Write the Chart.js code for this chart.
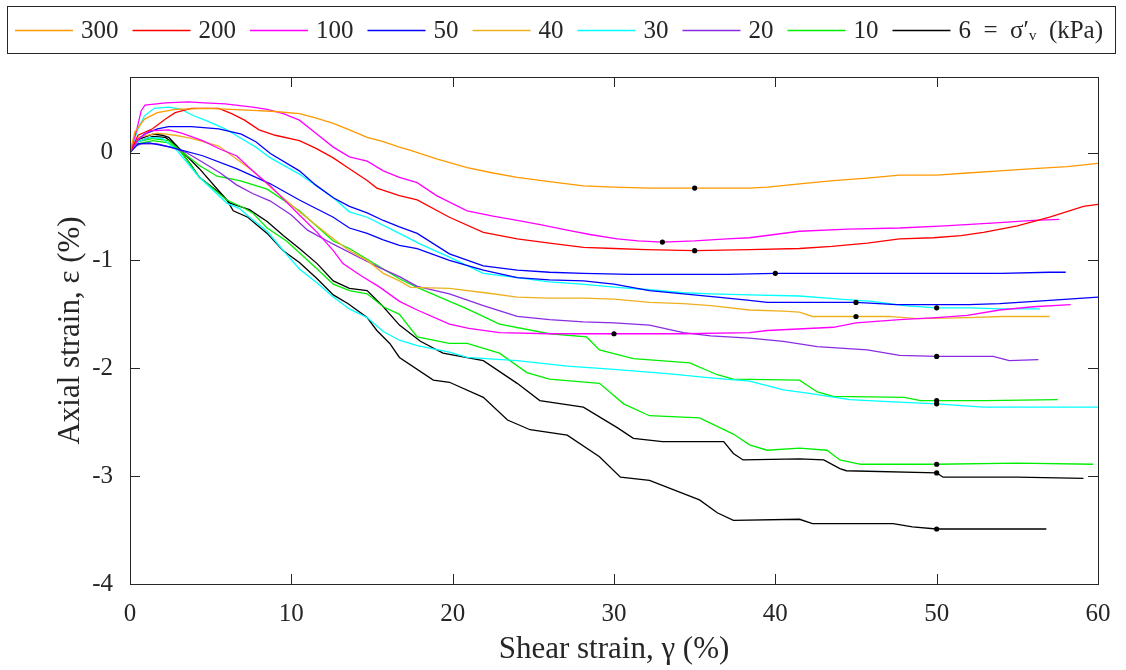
<!DOCTYPE html>
<html>
<head>
<meta charset="utf-8">
<script src="https://cdn.jsdelivr.net/npm/chart.js@4.4.1/dist/chart.umd.min.js"></script>
<style>
  body { margin: 0; background: #fff; }
  #wrap { width: 1126px; height: 670px; }
</style>
</head>
<body>
<div id="wrap"><canvas id="c" width="1126" height="670"></canvas></div>
<script>
// shear strain (x, %) vs axial strain (y, %)
var x300 = [0, 0.3, 0.9, 1.7, 2.8, 4.8, 7.6, 9, 10.5, 11.5, 12.6, 13.6, 14.7, 15.7, 16.7, 17.4, 19, 20.9, 22.5, 24, 26, 28.1, 30, 32.2, 35, 37, 38.4, 39.5, 41.5, 43.6, 45.5, 47.7, 50, 51.9, 53.9, 56, 58.1, 60];
var y300 = [0, 0.19, 0.31, 0.37, 0.40, 0.41, 0.39, 0.38, 0.36, 0.32, 0.27, 0.21, 0.14, 0.10, 0.05, 0.02, -0.06, -0.14, -0.19, -0.23, -0.27, -0.31, -0.32, -0.33, -0.33, -0.33, -0.33, -0.32, -0.29, -0.26, -0.24, -0.21, -0.21, -0.19, -0.17, -0.15, -0.13, -0.10];

var x200 = [0, 0.5, 1.4, 2.2, 2.8, 3.8, 5.5, 6.3, 7.1, 8, 9, 10.5, 11.5, 12.6, 13.6, 14.7, 15.3, 16.7, 17.8, 19.8, 21.9, 24, 26, 28.1, 30, 32, 35, 38.4, 41.5, 43.5, 45.7, 47.7, 49.8, 51.5, 52.9, 55, 57, 59.1, 60];
var y200 = [0, 0.16, 0.22, 0.31, 0.37, 0.41, 0.41, 0.36, 0.30, 0.21, 0.16, 0.11, 0.04, -0.05, -0.15, -0.26, -0.33, -0.40, -0.44, -0.60, -0.74, -0.80, -0.84, -0.88, -0.89, -0.90, -0.91, -0.90, -0.89, -0.87, -0.84, -0.80, -0.79, -0.77, -0.74, -0.68, -0.60, -0.50, -0.48];

var x100a = [0, 0.4, 0.7, 0.93, 2.2, 3.6, 4.6, 5.9, 7.6, 8.5, 9.5, 10.5, 11.5, 12.6, 13.6, 14.7, 15.7, 16.7, 17.8, 19, 20.9, 22.5, 24, 25.5, 27.1, 28.5, 30.2, 31.5, 33, 35, 37, 38.4, 41.5, 44.5, 47.7, 50.5, 53.9, 56, 57.6];
var y100a = [0, 0.2, 0.39, 0.44, 0.46, 0.47, 0.46, 0.45, 0.42, 0.40, 0.36, 0.30, 0.18, 0.05, -0.04, -0.08, -0.17, -0.23, -0.28, -0.40, -0.54, -0.59, -0.63, -0.67, -0.72, -0.76, -0.80, -0.82, -0.83, -0.82, -0.80, -0.79, -0.73, -0.71, -0.70, -0.68, -0.65, -0.63, -0.62];
var x100b = [0, 0.5, 1.2, 2.4, 3.2, 4.5, 5.6, 6.6, 7.6, 8.7, 9.5, 10.5, 11.6, 12.6, 13.2, 14.3, 15.5, 16.7, 17.8, 19.8, 21, 22.9, 26, 30, 34.3, 38.4, 39.5, 43.6, 45, 47.7, 50, 51.9, 53.9, 56, 58.3];
var y100b = [0, 0.12, 0.2, 0.21, 0.18, 0.11, 0.03, -0.03, -0.17, -0.31, -0.43, -0.58, -0.74, -0.91, -1.03, -1.14, -1.25, -1.38, -1.46, -1.59, -1.63, -1.67, -1.68, -1.68, -1.68, -1.67, -1.65, -1.62, -1.58, -1.55, -1.53, -1.51, -1.46, -1.43, -1.41];

var x50a = [0, 0.5, 0.9, 1.7, 2.4, 3.8, 5.5, 6.9, 7.8, 8.7, 10.5, 11.5, 12.6, 13.6, 14.7, 15.7, 16.7, 17.8, 19.8, 21.9, 24, 26, 28.1, 31, 34.3, 37, 40, 43, 46, 50, 54, 57, 58];
var y50a = [0, 0.12, 0.17, 0.22, 0.24, 0.24, 0.22, 0.17, 0.10, -0.01, -0.17, -0.30, -0.42, -0.50, -0.56, -0.63, -0.69, -0.75, -0.94, -1.05, -1.09, -1.11, -1.12, -1.13, -1.13, -1.13, -1.12, -1.12, -1.12, -1.12, -1.12, -1.11, -1.11];
var x50b = [0, 0.5, 1.2, 2.5, 4.5, 6.6, 8.7, 10.5, 12.6, 13.6, 14.7, 15.7, 16.7, 17.8, 19.8, 21.9, 24, 26, 28.1, 30, 32.2, 34.3, 36.4, 38.4, 39.5, 42, 45, 47.5, 49.8, 52, 53.9, 57, 60];
var y50b = [0, 0.08, 0.09, 0.05, -0.03, -0.15, -0.29, -0.44, -0.60, -0.70, -0.75, -0.81, -0.86, -0.89, -1.0, -1.09, -1.16, -1.18, -1.19, -1.22, -1.28, -1.31, -1.34, -1.37, -1.39, -1.39, -1.39, -1.41, -1.41, -1.41, -1.40, -1.37, -1.34];

var x40 = [0, 0.5, 1.7, 2.8, 3.8, 5.5, 6.6, 7.6, 8.7, 10.5, 12.6, 13.6, 14.7, 15.7, 16.7, 17.4, 19.8, 22, 24, 26, 28.1, 30, 32.2, 34.3, 36, 38.4, 40.5, 41.5, 42.3, 45, 47, 48.8, 52, 54, 57];
var y40 = [0, 0.14, 0.18, 0.16, 0.13, 0.06, -0.06, -0.17, -0.32, -0.55, -0.80, -0.91, -1.0, -1.12, -1.19, -1.25, -1.26, -1.30, -1.34, -1.35, -1.35, -1.36, -1.39, -1.40, -1.42, -1.46, -1.47, -1.48, -1.52, -1.52, -1.52, -1.54, -1.53, -1.52, -1.52];

var x30a = [0, 0.5, 0.9, 1.5, 2.4, 3.2, 3.8, 4.8, 5.9, 6.9, 7.8, 8.7, 10.5, 12.6, 13.6, 14.7, 16.7, 18, 19.8, 21.9, 24, 26, 28, 30.2, 32, 34.3, 36, 38.4, 41.5, 44, 46, 48, 50, 52, 54, 56.4];
var y30a = [0, 0.22, 0.34, 0.41, 0.42, 0.40, 0.35, 0.29, 0.22, 0.13, 0.05, -0.05, -0.20, -0.42, -0.55, -0.60, -0.75, -0.85, -0.97, -1.12, -1.16, -1.20, -1.22, -1.25, -1.27, -1.30, -1.31, -1.32, -1.33, -1.36, -1.38, -1.42, -1.44, -1.44, -1.45, -1.45];
var x30b = [0, 0.5, 1.2, 2, 2.9, 4.3, 6, 6.8, 7.4, 8.5, 9.5, 10.5, 11.6, 12.6, 13.6, 14.7, 15.7, 16.7, 17.8, 19.8, 20.9, 24, 27.1, 30, 33.3, 36, 38.4, 39.5, 40.5, 42, 44.6, 47, 50, 52.9, 56, 60];
var y30b = [0, 0.1, 0.14, 0.13, 0.02, -0.23, -0.47, -0.52, -0.60, -0.73, -0.91, -1.08, -1.21, -1.34, -1.45, -1.53, -1.66, -1.74, -1.79, -1.85, -1.90, -1.93, -1.98, -2.01, -2.05, -2.09, -2.12, -2.16, -2.20, -2.23, -2.29, -2.31, -2.33, -2.36, -2.36, -2.36];

var x20 = [0, 0.3, 0.7, 1.7, 2.5, 3.5, 4.5, 5.6, 6.6, 7.6, 8.7, 10, 11, 12.6, 14.3, 15.5, 16.7, 17.8, 19.8, 21.9, 24, 26, 28.1, 30, 32.2, 34.3, 36, 38.4, 40.5, 42.6, 45.7, 47.7, 50, 53.5, 54.5, 56.3];
var y20 = [0, 0.06, 0.08, 0.08, 0.05, 0.0, -0.09, -0.19, -0.30, -0.38, -0.45, -0.58, -0.72, -0.85, -0.98, -1.07, -1.15, -1.24, -1.31, -1.42, -1.52, -1.55, -1.57, -1.58, -1.60, -1.67, -1.70, -1.72, -1.75, -1.80, -1.83, -1.88, -1.89, -1.89, -1.93, -1.92];

var x10a = [0, 0.5, 1.4, 2.4, 3.1, 4.3, 5.4, 6.8, 8.5, 10.5, 12.6, 13.6, 14.7, 16.7, 17.8, 19.2, 20.9, 22.9, 26, 28.3, 29.1, 31.2, 34.7, 36.4, 37.4, 41.5, 42.6, 43.6, 48, 49, 50, 53, 57.5];
var y10a = [0, 0.1, 0.13, 0.11, 0.02, -0.12, -0.22, -0.26, -0.34, -0.54, -0.82, -0.89, -0.99, -1.17, -1.25, -1.34, -1.45, -1.59, -1.68, -1.71, -1.83, -1.91, -1.95, -2.06, -2.10, -2.11, -2.22, -2.26, -2.27, -2.30, -2.30, -2.30, -2.29];
var x10b = [0, 0.5, 1.4, 2.4, 3.2, 4.3, 6, 7, 7.6, 8.5, 9.7, 10.5, 11.6, 12.6, 13.6, 14.7, 15.7, 16.7, 17.8, 19.8, 20.9, 22.9, 24.6, 26, 29.1, 30.6, 32.2, 35.3, 37.4, 38.4, 39.5, 41.5, 43.2, 44, 45.3, 50, 55, 59.7];
var y10b = [0, 0.08, 0.11, 0.09, 0.0, -0.23, -0.44, -0.51, -0.56, -0.70, -0.82, -0.93, -1.08, -1.22, -1.28, -1.31, -1.43, -1.50, -1.71, -1.77, -1.77, -1.86, -2.04, -2.10, -2.14, -2.33, -2.44, -2.46, -2.61, -2.71, -2.76, -2.74, -2.76, -2.85, -2.89, -2.89, -2.88, -2.89];

var x6a = [0, 0.5, 1.4, 2, 2.4, 2.9, 3.2, 3.8, 4.3, 5.6, 6.2, 6.8, 7.4, 8.5, 9.5, 10.5, 11.6, 12.6, 13.6, 14.7, 15.7, 16.7, 18, 19.4, 21.9, 24, 25.4, 28.1, 30.2, 31.2, 33, 36.8, 37.4, 38, 41.5, 43, 44, 44.4, 50, 50.4, 55, 59.1];
var y6a = [0, 0.12, 0.17, 0.16, 0.14, 0.06, 0.0, -0.12, -0.23, -0.38, -0.47, -0.50, -0.53, -0.64, -0.77, -0.89, -1.03, -1.19, -1.26, -1.28, -1.43, -1.60, -1.75, -1.86, -1.93, -2.14, -2.30, -2.36, -2.55, -2.65, -2.68, -2.68, -2.79, -2.85, -2.84, -2.85, -2.93, -2.95, -2.97, -3.01, -3.01, -3.02];
var x6b = [0, 0.5, 1.4, 2.2, 2.9, 3.5, 4.3, 6, 6.4, 7.3, 8.5, 9.5, 10.5, 11.6, 12.6, 13.5, 14.7, 15.3, 16.1, 16.7, 18.8, 19.8, 21.9, 23.4, 24.8, 27.1, 29.1, 30.4, 32.2, 35.3, 36.4, 37.4, 41.5, 42.3, 47.3, 48.5, 50, 56.8];
var y6b = [0, 0.1, 0.15, 0.14, 0.06, -0.03, -0.15, -0.44, -0.54, -0.60, -0.75, -0.91, -1.02, -1.17, -1.32, -1.40, -1.53, -1.65, -1.77, -1.90, -2.11, -2.13, -2.27, -2.48, -2.57, -2.62, -2.82, -3.01, -3.04, -3.22, -3.34, -3.41, -3.40, -3.44, -3.44, -3.47, -3.49, -3.49];

// marked points
var dotX = [35, 33, 35, 40, 45, 45, 30, 50, 50, 50, 50, 50, 50, 50];
var dotY = [-0.33, -0.83, -0.91, -1.12, -1.39, -1.52, -1.68, -1.44, -1.89, -2.30, -2.33, -2.89, -2.97, -3.49];

var legendLabels = ['300', '200', '100', '50', '40', '30', '20', '10', '6\u2002=\u2002\u03c3\u2032\u1d65\u2002(kPa)'];
var legendColors = ['#FF9900', '#FF0000', '#FF00FF', '#0000FF', '#EDB120', '#00FFFF', '#8A2BE2', '#00EE00', '#000000'];
var yTicks = [-4, -3, -2, -1, 0];

var FONT = '"Liberation Serif", "DejaVu Serif", serif';
var AXC = '#262626';

function pts(xs, ys) {
    return xs.map(function (v, i) { return {x: v, y: ys[i]}; });
}

function line(xs, ys, colorIdx) {
    return {
        data: pts(xs, ys),
        borderColor: legendColors[colorIdx],
        borderWidth: 1.3,
        pointRadius: 0,
        tension: 0,
        fill: false,
        showLine: true,
        order: 2
    };
}

var datasets = [
    line(x300, y300, 0),
    line(x200, y200, 1),
    line(x100a, y100a, 2),
    line(x100b, y100b, 2),
    line(x50a, y50a, 3),
    line(x50b, y50b, 3),
    line(x40, y40, 4),
    line(x30a, y30a, 5),
    line(x30b, y30b, 5),
    line(x20, y20, 6),
    line(x10a, y10a, 7),
    line(x10b, y10b, 7),
    line(x6a, y6a, 8),
    line(x6b, y6b, 8),
    {
        data: pts(dotX, dotY),
        showLine: false,
        pointRadius: 2.6,
        pointBackgroundColor: '#000',
        pointBorderWidth: 0,
        order: 0
    }
];

// box around the axes with inward ticks, MATLAB style
var framePlugin = {
    id: 'frame',
    afterDatasetsDraw: function (chart) {
        var ctx = chart.ctx, a = chart.chartArea;
        var sx = chart.scales.x, sy = chart.scales.y;
        ctx.save();
        ctx.strokeStyle = AXC;
        ctx.lineWidth = 1;
        ctx.beginPath();
        sx.ticks.forEach(function (t) {
            var p = Math.round(sx.getPixelForValue(t.value)) + 0.5;
            ctx.moveTo(p, a.bottom); ctx.lineTo(p, a.bottom - 10);
            ctx.moveTo(p, a.top); ctx.lineTo(p, a.top + 10);
        });
        sy.ticks.forEach(function (t) {
            var p = Math.round(sy.getPixelForValue(t.value)) + 0.5;
            ctx.moveTo(a.left, p); ctx.lineTo(a.left + 10, p);
            ctx.moveTo(a.right, p); ctx.lineTo(a.right - 10, p);
        });
        ctx.stroke();
        ctx.strokeRect(Math.round(a.left) + 0.5, Math.round(a.top) + 0.5,
            Math.round(a.right - a.left), Math.round(a.bottom - a.top));
        ctx.restore();
    }
};

// boxed legend in one row above the plot
var legendPlugin = {
    id: 'boxLegend',
    afterDraw: function (chart) {
        var ctx = chart.ctx;
        ctx.save();
        ctx.strokeStyle = AXC;
        ctx.lineWidth = 1;
        ctx.strokeRect(7.5, 6.5, 1108, 47);
        ctx.font = '25px ' + FONT;
        ctx.textBaseline = 'middle';
        ctx.fillStyle = AXC;
        var cx = 15, cy = 30;
        legendLabels.forEach(function (lab, i) {
            ctx.strokeStyle = legendColors[i];
            ctx.lineWidth = 1.3;
            ctx.beginPath();
            ctx.moveTo(cx, cy + 0.5); ctx.lineTo(cx + 58, cy + 0.5);
            ctx.stroke();
            ctx.fillText(lab, cx + 66, cy + 1);
            cx += 66 + ctx.measureText(lab).width + 14;
        });
        ctx.restore();
    }
};

new Chart(document.getElementById('c'), {
    type: 'scatter',
    data: {datasets: datasets},
    options: {
        responsive: false,
        animation: false,
        layout: {padding: {top: 77, right: 28, left: 0, bottom: 0}},
        plugins: {legend: {display: false}, tooltip: {enabled: false}},
        scales: {
            x: {
                type: 'linear', min: 0, max: 60,
                grid: {display: false}, border: {display: false},
                ticks: {stepSize: 10, padding: 7, color: AXC, font: {family: FONT, size: 25}},
                title: {display: true, text: 'Shear strain, \u03b3 (%)', color: AXC,
                    font: {family: FONT, size: 31}, padding: {top: 0, bottom: 2}},
                afterFit: function (s) { s.height = 86; }
            },
            y: {
                type: 'linear', min: -4, max: 0.7,
                grid: {display: false}, border: {display: false},
                afterBuildTicks: function (s) { s.ticks = yTicks.map(function (v) { return {value: v}; }); },
                ticks: {padding: 9, color: AXC, font: {family: FONT, size: 25}},
                title: {display: true, text: 'Axial strain, \u03b5 (%)', color: AXC,
                    font: {family: FONT, size: 31}, padding: {top: 52, bottom: 0}},
                afterFit: function (s) { s.width = 130; }
            }
        }
    },
    plugins: [framePlugin, legendPlugin]
});
</script>
</body>
</html>
